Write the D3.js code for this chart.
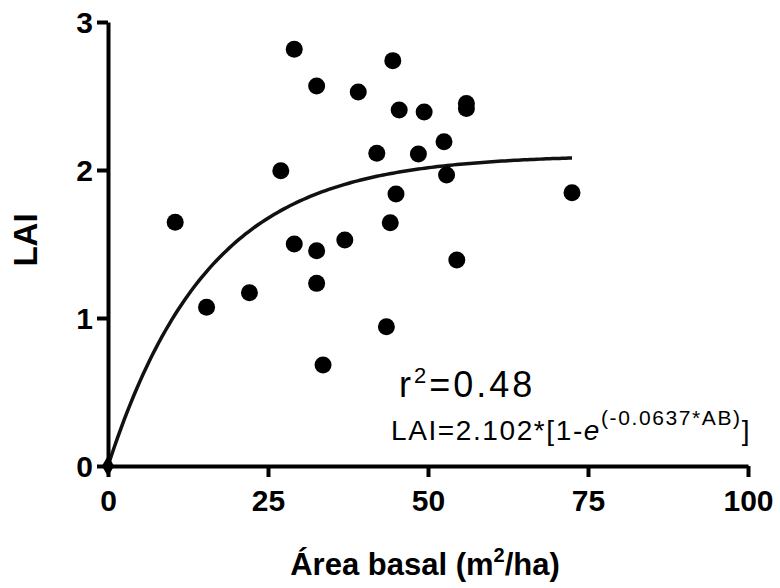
<!DOCTYPE html>
<html>
<head>
<meta charset="utf-8">
<script src="https://cdn.jsdelivr.net/npm/d3@7"></script>
<style>
  body { margin: 0; background: #fff; }
  svg, svg text { font-family: Arial, 'Liberation Sans', Helvetica, sans-serif; }
</style>
</head>
<body>
<svg id="chart"></svg>
<script>
// basal area (m2/ha) and LAI
const areaBasal = [10.5, 15.4, 22.1, 27.0, 29.1, 29.1, 32.6, 32.6, 32.6, 33.6, 37.0, 39.1, 42.0,
  43.5, 44.1, 44.5, 45.0, 45.5, 48.5, 49.4, 52.5, 52.9, 54.5, 56.0, 56.0, 72.5];
const lai = [1.647, 1.072, 1.171, 1.995, 2.816, 1.5, 2.568, 1.455, 1.234, 0.682, 1.527, 2.527, 2.113,
  0.941, 1.644, 2.739, 1.838, 2.405, 2.108, 2.392, 2.191, 1.966, 1.392, 2.449, 2.416, 1.847];

const xTicks = [0, 25, 50, 75, 100];
const yTicks = [0, 1, 2, 3];

// fitted model printed on the chart: LAI = a * (1 - e^(-b*AB))
const fitA = 2.102;
const fitB = 0.0637;
const fitMaxX = 72.5;

const width = 780;
const height = 588;

const svg = d3.select('#chart').attr('width', width).attr('height', height);

const x = d3.scaleLinear().domain([0, 100]).range([108, 748]);
const y = d3.scaleLinear().domain([0, 3]).range([466, 22]);

// fitted curve
const curveData = d3.range(0, fitMaxX + 0.01, 0.5).map((v) => [v, fitA * (1 - Math.exp(-fitB * v))]);
svg.append('path')
  .datum(curveData)
  .attr('fill', 'none')
  .attr('stroke', '#111')
  .attr('stroke-width', 3.5)
  .attr('d', d3.line().x((d) => x(d[0])).y((d) => y(d[1])));

// points
svg.selectAll('circle.pt')
  .data(areaBasal)
  .enter()
  .append('circle')
  .attr('class', 'pt')
  .attr('cx', (d) => x(d))
  .attr('cy', (d, i) => y(lai[i]))
  .attr('r', 8.5)
  .attr('fill', '#000');

// axes
const xAxis = d3.axisBottom(x).tickValues(xTicks).tickFormat(d3.format('d'))
  .tickSize(11).tickPadding(13).tickSizeOuter(0);
const yAxis = d3.axisLeft(y).tickValues(yTicks).tickFormat(d3.format('d'))
  .tickSize(11).tickPadding(4).tickSizeOuter(0);

const gx = svg.append('g').attr('transform', `translate(0,${y(0)})`).call(xAxis);
const gy = svg.append('g').attr('transform', `translate(${x(0)},0)`).call(yAxis);

[gx, gy].forEach((g) => {
  g.attr('font-family', null).attr('font-size', null);
  g.select('.domain').attr('stroke', '#000').attr('stroke-width', 4);
  g.selectAll('.tick line').attr('stroke', '#000').attr('stroke-width', 4);
  g.selectAll('.tick text')
    .attr('fill', '#000')
    .attr('font-size', 30)
    .attr('font-weight', 'bold');
});
gx.selectAll('.tick text').attr('dy', '0.7em');
gy.selectAll('.tick text').attr('dy', '0.36em');

// marker at the origin
svg.append('path')
  .attr('transform', `translate(${x(0)},${y(0)})`)
  .attr('d', d3.symbol().type(d3.symbolDiamond).size(130)())
  .attr('fill', '#000');

// axis titles
const xTitle = svg.append('text')
  .attr('x', 425)
  .attr('y', 575)
  .attr('text-anchor', 'middle')
  .attr('font-size', 31)
  .attr('font-weight', 'bold');
xTitle.append('tspan').text('Área basal (m');
xTitle.append('tspan').attr('font-size', 20).attr('dy', -13).text('2');
xTitle.append('tspan').attr('dy', 13).text('/ha)');

svg.append('text')
  .attr('transform', 'translate(37,240) rotate(-90)')
  .attr('text-anchor', 'middle')
  .attr('font-size', 33)
  .attr('font-weight', 'bold')
  .text('LAI');

// annotation
const r2 = svg.append('text')
  .attr('x', 399)
  .attr('y', 397)
  .attr('font-size', 36)
  .attr('letter-spacing', 3);
r2.append('tspan').text('r');
r2.append('tspan').attr('font-size', 22).attr('dy', -14).text('2');
r2.append('tspan').attr('dy', 14).text('=0.48');

const eq = svg.append('text')
  .attr('x', 391)
  .attr('y', 440)
  .attr('font-size', 28)
  .attr('letter-spacing', 1.6);
eq.append('tspan').text('LAI=2.102*[1-');
eq.append('tspan').attr('font-style', 'italic').text('e');
eq.append('tspan').attr('font-size', 21).attr('dy', -15).text('(-0.0637*AB)');
eq.append('tspan').attr('dy', 15).text(']');
</script>
</body>
</html>
